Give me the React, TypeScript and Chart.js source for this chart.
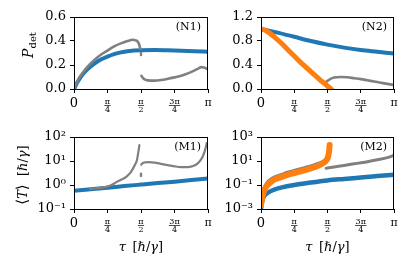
import React, { useEffect, useRef } from 'react';
import { Chart, registerables } from 'chart.js';
Chart.register(...registerables);

const PI = Math.PI;
const BLUE = '#1f77b4';
const ORANGE = '#ff7f0e';
const GRAY = '#808080';
const FONT = 'DejaVu Serif';

// x ticks (fractions of pi) and their labels
const xTickFractions = [0, 0.25, 0.5, 0.75, 1];
const xTickLabels = ['0', 'π/4', 'π/2', '3π/4', 'π'];

// ---- N1 ----
const n1YTicks = [0, 0.2, 0.4, 0.6];
const n1BlueX = [0, 0.025, 0.05, 0.075, 0.1, 0.15, 0.2, 0.25, 0.3, 0.35, 0.4, 0.5, 0.6, 0.7, 0.8, 0.9, 1.0];
const n1BlueY = [0, 0.055, 0.1, 0.135, 0.165, 0.21, 0.245, 0.27, 0.29, 0.305, 0.315, 0.323, 0.324, 0.322, 0.319, 0.315, 0.31];
const n1GrayAX = [0, 0.025, 0.05, 0.075, 0.1, 0.15, 0.2, 0.25, 0.3, 0.35, 0.4, 0.44, 0.46, 0.475, 0.485, 0.495];
const n1GrayAY = [0, 0.06, 0.11, 0.15, 0.185, 0.24, 0.285, 0.32, 0.355, 0.38, 0.4, 0.41, 0.405, 0.395, 0.375, 0.335];
const n1DotsX = [0.5, 0.5];
const n1DotsY = [0.3, 0.283];
const n1GrayBX = [0.503, 0.515, 0.53, 0.55, 0.6, 0.65, 0.7, 0.75, 0.8, 0.85, 0.9, 0.93, 0.95, 0.97, 0.99, 1.0];
const n1GrayBY = [0.11, 0.09, 0.078, 0.072, 0.07, 0.075, 0.085, 0.097, 0.11, 0.13, 0.155, 0.172, 0.182, 0.18, 0.17, 0.162];

// ---- N2 ----
const n2YTicks = [0, 0.4, 0.8, 1.2];
const n2BlueX = [0, 0.125, 0.25, 0.375, 0.5, 0.625, 0.75, 0.875, 1];
const n2BlueY = [1.0, 0.94, 0.87, 0.8, 0.74, 0.69, 0.65, 0.62, 0.59];
const n2OrangeX = [0, 0.03, 0.06, 0.1, 0.15, 0.2, 0.25, 0.3, 0.35, 0.4, 0.45, 0.5, 0.54];
const n2OrangeY = [1.0, 0.98, 0.94, 0.87, 0.77, 0.66, 0.55, 0.44, 0.34, 0.24, 0.14, 0.05, -0.03];
const n2GrayX = [0.48, 0.5, 0.52, 0.55, 0.6, 0.65, 0.7, 0.75, 0.8, 0.85, 0.9, 0.95, 1];
const n2GrayY = [0.1, 0.135, 0.165, 0.19, 0.2, 0.195, 0.18, 0.165, 0.145, 0.125, 0.105, 0.085, 0.067];

// ---- M1 ----
const m1YTicks = [0.1, 1, 10, 100];
const m1BlueX = [0, 0.125, 0.25, 0.375, 0.5, 0.625, 0.75, 0.875, 1];
const m1BlueY = [0.58, 0.67, 0.775, 0.9, 1.04, 1.2, 1.38, 1.6, 1.85];
const m1GrayAX = [0.12, 0.18, 0.24, 0.28, 0.32, 0.36, 0.39, 0.42, 0.44, 0.455, 0.47, 0.478, 0.484, 0.488];
const m1GrayAY = [0.68, 0.74, 0.84, 1.0, 1.35, 1.75, 2.2, 3.2, 4.8, 7, 11, 20, 32, 46];
const m1DotsX = [0.5, 0.5];
const m1DotsY = [2.9, 2.4];
const m1GrayBX = [0.502, 0.51, 0.53, 0.56, 0.6, 0.65, 0.7, 0.75, 0.8, 0.85, 0.88, 0.91, 0.94, 0.96, 0.975, 0.985, 0.99];
const m1GrayBY = [7, 8, 8.8, 9, 8.6, 7.6, 6.7, 6, 5.6, 5.6, 6.0, 7, 10, 15, 25, 40, 55];

// ---- M2 ----
const m2YTicks = [0.001, 0.1, 10, 1000];
const m2BlueX = [0, 0.005, 0.01, 0.02, 0.04, 0.07, 0.1, 0.15, 0.25, 0.375, 0.5, 0.625, 0.75, 0.875, 1];
const m2BlueY = [0.001, 0.0025, 0.005, 0.01, 0.018, 0.03, 0.042, 0.06, 0.1, 0.16, 0.24, 0.32, 0.42, 0.55, 0.72];
const m2OrangeX = [0, 0.005, 0.01, 0.02, 0.035, 0.05, 0.075, 0.1, 0.15, 0.2, 0.25, 0.3, 0.35, 0.4, 0.44, 0.47, 0.49, 0.5, 0.508, 0.513, 0.516];
const m2OrangeY = [0.002, 0.005, 0.01, 0.025, 0.06, 0.1, 0.18, 0.28, 0.45, 0.7, 1.0, 1.4, 2.0, 3.0, 4.5, 7, 11, 16, 35, 80, 220];
const m2GrayAX = [0, 0.005, 0.01, 0.02, 0.035, 0.05, 0.075, 0.1, 0.15, 0.2, 0.25, 0.3, 0.35, 0.4, 0.44, 0.47];
const m2GrayAY = [0.002, 0.008, 0.017, 0.04, 0.09, 0.16, 0.28, 0.42, 0.66, 1.05, 1.5, 2.1, 3.0, 4.4, 6.3, 9];
const m2GrayBX = [0.49, 0.55, 0.625, 0.7, 0.75, 0.8, 0.875, 0.95, 1];
const m2GrayBY = [2.5, 3.2, 4.3, 5.8, 7, 8.6, 12.5, 19, 30];

const SUP: Record<string, string> = { '-': '⁻', '0': '⁰', '1': '¹', '2': '²', '3': '³', '4': '⁴', '5': '⁵', '6': '⁶', '7': '⁷', '8': '⁸', '9': '⁹' };
const logFmt = (v: number) => '10' + String(Math.round(Math.log10(v))).split('').map(c => SUP[c]).join('');
const linFmt = (v: number) => v.toFixed(1);

function line(xs: number[], ys: number[], color: string, width: number, order: number) {
  return {
    type: 'line',
    data: xs.map((f, i) => ({ x: f * PI, y: ys[i] })),
    borderColor: color,
    backgroundColor: color,
    borderWidth: width,
    pointRadius: 0,
    fill: false,
    cubicInterpolationMode: 'monotone',
    order,
    clip: 0,
    borderCapStyle: 'round',
    borderJoinStyle: 'round',
  };
}
function dots(xs: number[], ys: number[], color: string, order: number) {
  return {
    type: 'line',
    data: xs.map((f, i) => ({ x: f * PI, y: ys[i] })),
    showLine: false,
    pointRadius: 1.3,
    pointBorderWidth: 0,
    pointBackgroundColor: color,
    borderColor: color,
    order,
    clip: 0,
  };
}

type Run = { t: string; f: string; dy?: number };
function drawRuns(ctx: CanvasRenderingContext2D, runs: Run[], cx: number, cy: number, rotate: boolean) {
  ctx.save();
  ctx.translate(cx, cy);
  if (rotate) ctx.rotate(-Math.PI / 2);
  let total = 0;
  for (const r of runs) { ctx.font = r.f; total += ctx.measureText(r.t).width; }
  let x = -total / 2;
  ctx.textAlign = 'left';
  ctx.textBaseline = 'alphabetic';
  ctx.fillStyle = '#000';
  for (const r of runs) {
    ctx.font = r.f;
    ctx.fillText(r.t, x, r.dy || 0);
    x += ctx.measureText(r.t).width;
  }
  ctx.restore();
}

const I13 = `italic 13px ${FONT}`;
const N13 = `13px ${FONT}`;
const unitRuns: Run[] = [
  { t: '[', f: N13 }, { t: 'ℏ', f: I13 }, { t: '/', f: N13 }, { t: 'γ', f: I13 }, { t: ']', f: N13 },
];
const xTitleRuns: Run[] = [{ t: 'τ', f: I13 }, { t: '\u2002', f: N13 }, ...unitRuns];
const pTitleRuns: Run[] = [{ t: 'P', f: `italic 14px ${FONT}` }, { t: 'det', f: `10px ${FONT}`, dy: 3 }];
const tTitleRuns: Run[] = [{ t: '⟨', f: `15px ${FONT}` }, { t: 'T', f: I13 }, { t: '⟩', f: `15px ${FONT}` }, { t: '  ', f: N13 }, ...unitRuns];

type PanelCfg = {
  name: string;
  left: number; // canvas left
  top: number; // canvas top
  yw: number; // y axis width
  aw: number; // area width
  xh: number; // x axis height
  yType: 'linear' | 'logarithmic';
  yMin: number; yMax: number; yTicks: number[];
  fmt: (v: number) => string;
  datasets: any[];
  xTitle: boolean;
  yTitle: Run[] | null;
  yTitleX: number; yTitleY: number;
};

const PT = 10, PR = 6, AH = 72;

const panels: PanelCfg[] = [
  {
    name: '(N1)', left: 0, top: 7, yw: 74, aw: 134, xh: 30,
    yType: 'linear', yMin: 0, yMax: 0.6, yTicks: n1YTicks, fmt: linFmt,
    datasets: [
      line(n1BlueX, n1BlueY, BLUE, 4, 3),
      line(n1GrayAX, n1GrayAY, GRAY, 2.6, 2),
      dots(n1DotsX, n1DotsY, GRAY, 2),
      line(n1GrayBX, n1GrayBY, GRAY, 2.6, 2),
    ],
    xTitle: false, yTitle: pTitleRuns, yTitleX: 29, yTitleY: 45 - 7,
  },
  {
    name: '(N2)', left: 214, top: 7, yw: 47, aw: 133, xh: 30,
    yType: 'linear', yMin: 0, yMax: 1.2, yTicks: n2YTicks, fmt: linFmt,
    datasets: [
      line(n2BlueX, n2BlueY, BLUE, 4, 3),
      line(n2GrayX, n2GrayY, GRAY, 2.6, 2),
      line(n2OrangeX, n2OrangeY, ORANGE, 5, 1),
    ],
    xTitle: false, yTitle: null, yTitleX: 0, yTitleY: 0,
  },
  {
    name: '(M1)', left: 0, top: 127, yw: 74, aw: 134, xh: 60,
    yType: 'logarithmic', yMin: 0.1, yMax: 100, yTicks: m1YTicks, fmt: logFmt,
    datasets: [
      line(m1BlueX, m1BlueY, BLUE, 4, 3),
      line(m1GrayAX, m1GrayAY, GRAY, 2.2, 2),
      dots(m1DotsX, m1DotsY, GRAY, 2),
      line(m1GrayBX, m1GrayBY, GRAY, 2.2, 2),
    ],
    xTitle: true, yTitle: tTitleRuns, yTitleX: 23, yTitleY: 175 - 127,
  },
  {
    name: '(M2)', left: 214, top: 127, yw: 47, aw: 133, xh: 60,
    yType: 'logarithmic', yMin: 0.001, yMax: 1000, yTicks: m2YTicks, fmt: logFmt,
    datasets: [
      line(m2BlueX, m2BlueY, BLUE, 4.5, 3),
      line(m2GrayAX, m2GrayAY, GRAY, 4, 2),
      line(m2GrayBX, m2GrayBY, GRAY, 3, 2),
      line(m2OrangeX, m2OrangeY, ORANGE, 6, 1),
    ],
    xTitle: true, yTitle: null, yTitleX: 0, yTitleY: 0,
  },
];

function Panel({ cfg }: { cfg: PanelCfg }) {
  const ref = useRef<HTMLCanvasElement>(null);
  const W = cfg.yw + cfg.aw + PR;
  const H = PT + AH + cfg.xh;
  useEffect(() => {
    const canvas = ref.current!;
    const deco = {
      id: 'deco',
      afterDraw(chart: any) {
        const ctx: CanvasRenderingContext2D = chart.ctx;
        const a = chart.chartArea;
        const xs = chart.scales.x;
        ctx.save();
        // frame
        ctx.strokeStyle = '#000';
        ctx.lineWidth = 1;
        ctx.strokeRect(a.left + 0.5, a.top + 0.5, a.right - a.left - 1, a.bottom - a.top);
        // x tick labels
        ctx.fillStyle = '#000';
        ctx.textAlign = 'center';
        ctx.textBaseline = 'middle';
        const b = a.bottom;
        xTickFractions.forEach((f, i) => {
          const px = xs.getPixelForValue(f * PI);
          const lab = xTickLabels[i];
          if (lab.includes('/')) {
            const [num, den] = lab.split('/');
            ctx.font = `8px ${FONT}`;
            ctx.fillText(num, px, b + 12.5);
            ctx.fillText(den, px, b + 20.5);
            const w = Math.max(ctx.measureText(num).width, ctx.measureText(den).width) + 1;
            ctx.fillRect(px - w / 2, b + 16.2, w, 0.7);
          } else if (lab === 'π') {
            ctx.font = `11px ${FONT}`;
            ctx.fillText(lab, px, b + 14);
          } else {
            ctx.font = `13px ${FONT}`;
            ctx.fillText(lab, px, b + 14.5);
          }
        });
        // panel name
        ctx.font = `11px ${FONT}`;
        ctx.textAlign = 'right';
        ctx.textBaseline = 'middle';
        ctx.fillText(cfg.name, a.right - 7, a.top + 10);
        ctx.restore();
        if (cfg.xTitle) drawRuns(ctx, xTitleRuns, (a.left + a.right) / 2, b + 42, false);
        if (cfg.yTitle) drawRuns(ctx, cfg.yTitle, cfg.yTitleX + 4, cfg.yTitleY, true);
      },
    };
    const grid = { drawOnChartArea: false, drawTicks: true, tickLength: 4, color: '#000', lineWidth: 1 };
    const chart = new Chart(canvas, {
      type: 'line',
      data: { datasets: cfg.datasets },
      options: {
        animation: false,
        responsive: false,
        maintainAspectRatio: false,
        events: [],
        layout: { padding: { top: PT, right: PR, left: 0, bottom: 0 } },
        plugins: { legend: { display: false }, tooltip: { enabled: false } },
        scales: {
          x: {
            type: 'linear', min: 0, max: PI,
            afterBuildTicks: (s: any) => { s.ticks = xTickFractions.map(f => ({ value: f * PI })); },
            ticks: { display: false, autoSkip: false },
            grid,
            border: { display: false },
            afterFit: (s: any) => { s.height = cfg.xh; s.paddingLeft = 0; s.paddingRight = 0; },
          },
          y: {
            type: cfg.yType, min: cfg.yMin, max: cfg.yMax,
            afterBuildTicks: (s: any) => { s.ticks = cfg.yTicks.map(v => ({ value: v })); },
            ticks: {
              autoSkip: false,
              padding: 4,
              color: '#000',
              font: { family: FONT, size: 13 },
              callback: (v: any) => cfg.fmt(Number(v)),
            },
            grid,
            border: { display: false },
            afterFit: (s: any) => { s.width = cfg.yw; s.paddingTop = 0; s.paddingBottom = 0; },
          },
        },
      } as any,
      plugins: [deco],
    } as any);
    return () => chart.destroy();
  }, [cfg]);
  return (
    <canvas
      ref={ref}
      width={W}
      height={H}
      style={{ position: 'absolute', left: cfg.left, top: cfg.top, width: W, height: H }}
    />
  );
}

export default function App() {
  return (
    <div style={{ position: 'fixed', left: 0, top: 0, width: 411, height: 274, background: '#fff', overflow: 'hidden' }}>
      {panels.map(p => <Panel key={p.name} cfg={p} />)}
    </div>
  );
}
